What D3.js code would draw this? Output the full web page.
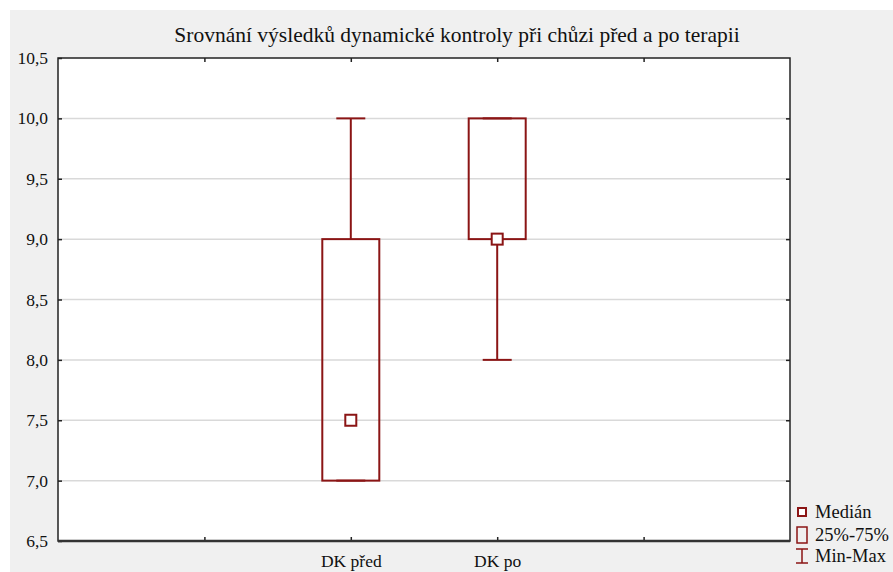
<!DOCTYPE html>
<html><head><meta charset="utf-8">
<script src="https://cdn.jsdelivr.net/npm/d3@7/dist/d3.min.js"></script>
<style>
html,body{margin:0;padding:0;background:#fff;}
svg{display:block;}
text{font-family:"Liberation Serif","Times New Roman",serif;fill:#111;}
</style></head>
<body>
<script>
const title = "Srovnání výsledků dynamické kontroly při chůzi před a po terapii";
const categories = ["DK před", "DK po"];
const slots = ["", "", "DK před", "DK po", ""];
const mins = [7.0, 8.0];
const q1 = [7.0, 9.0];
const medians = [7.5, 9.0];
const q3 = [9.0, 10.0];
const maxs = [10.0, 10.0];
const yTicks = [6.5, 7.0, 7.5, 8.0, 8.5, 9.0, 9.5, 10.0, 10.5];
const legendLabels = ["Medián", "25%-75%", "Min-Max"];

const W = 893, H = 572;
const m = {left: 58, top: 58, right: 790, bottom: 541};
const col = "#8b1515";

const svg = d3.select("body").append("svg").attr("width", W).attr("height", H);
svg.append("rect").attr("x", 10).attr("y", 10).attr("width", W - 10).attr("height", H - 10).attr("fill", "#f0f0f0");

const y = d3.scaleLinear().domain([6.5, 10.5]).range([m.bottom, m.top]);
const x = d3.scaleLinear().domain([0, 5]).range([m.left, m.right]);
const catPos = i => x(slots.indexOf(categories[i]));

svg.append("rect").attr("x", m.left).attr("y", m.top).attr("width", m.right - m.left).attr("height", m.bottom - m.top).attr("fill", "#fff");

// gridlines
svg.append("g").selectAll("line").data(yTicks.slice(1, -1)).join("line")
  .attr("x1", m.left).attr("x2", m.right).attr("y1", d => y(d)).attr("y2", d => y(d))
  .attr("stroke", "#d9d9d9").attr("stroke-width", 1.5);

// axes
const fmt = d => d3.format(".1f")(d).replace(".", ",");
const yAxis = svg.append("g").attr("transform", `translate(${m.left},0)`)
  .call(d3.axisLeft(y).tickValues(yTicks).tickFormat(fmt).tickSizeInner(-4).tickSizeOuter(0).tickPadding(10));
yAxis.select(".domain").remove();
yAxis.selectAll("text").attr("font-size", 17.5).style("font-family", '"Liberation Serif",serif').attr("fill", "#111");
yAxis.selectAll(".tick line").attr("stroke", "#222").attr("stroke-width", 1.5);

const yAxisR = svg.append("g").attr("transform", `translate(${m.right},0)`)
  .call(d3.axisRight(y).tickValues(yTicks.slice(1, -1)).tickFormat("").tickSizeInner(-4).tickSizeOuter(0));
yAxisR.select(".domain").remove();
yAxisR.selectAll(".tick line").attr("stroke", "#222").attr("stroke-width", 1.5);

const tickX = [1, 2, 3, 4];
const xAxisB = svg.append("g").attr("transform", `translate(0,${m.bottom})`)
  .call(d3.axisBottom(x).tickValues(tickX).tickFormat(d => slots[d]).tickSizeInner(-4).tickSizeOuter(0).tickPadding(14));
xAxisB.select(".domain").remove();
xAxisB.selectAll("text").attr("font-size", 17.5).style("font-family", '"Liberation Serif",serif').attr("fill", "#111");
xAxisB.selectAll(".tick line").attr("stroke", "#222").attr("stroke-width", 1.5);

const xAxisT = svg.append("g").attr("transform", `translate(0,${m.top})`)
  .call(d3.axisTop(x).tickValues(tickX).tickFormat("").tickSizeInner(-4).tickSizeOuter(0));
xAxisT.select(".domain").remove();
xAxisT.selectAll(".tick line").attr("stroke", "#222").attr("stroke-width", 1.5);

// frame
svg.append("rect").attr("x", m.left).attr("y", m.top).attr("width", m.right - m.left).attr("height", m.bottom - m.top)
  .attr("fill", "none").attr("stroke", "#222").attr("stroke-width", 1.5);
svg.append("line").attr("x1", m.left).attr("x2", m.right).attr("y1", m.bottom).attr("y2", m.bottom).attr("stroke", "#333").attr("stroke-width", 2.5);

// boxes
const boxW = 57, capW = 29, medS = 11;
const g = svg.append("g");
categories.forEach((c, i) => {
  const cx = catPos(i);
  g.append("line").attr("x1", cx).attr("x2", cx).attr("y1", y(maxs[i])).attr("y2", y(q3[i])).attr("stroke", col).attr("stroke-width", 2);
  g.append("line").attr("x1", cx).attr("x2", cx).attr("y1", y(q1[i])).attr("y2", y(mins[i])).attr("stroke", col).attr("stroke-width", 2);
  g.append("line").attr("x1", cx - capW / 2).attr("x2", cx + capW / 2).attr("y1", y(maxs[i])).attr("y2", y(maxs[i])).attr("stroke", col).attr("stroke-width", 2);
  g.append("line").attr("x1", cx - capW / 2).attr("x2", cx + capW / 2).attr("y1", y(mins[i])).attr("y2", y(mins[i])).attr("stroke", col).attr("stroke-width", 2);
  g.append("rect").attr("x", cx - boxW / 2).attr("y", y(q3[i])).attr("width", boxW).attr("height", y(q1[i]) - y(q3[i]))
    .attr("fill", "none").attr("stroke", col).attr("stroke-width", 2);
  g.append("rect").attr("x", cx - medS / 2).attr("y", y(medians[i]) - medS / 2).attr("width", medS).attr("height", medS)
    .attr("fill", "#fff").attr("stroke", col).attr("stroke-width", 2);
});

// title
svg.append("text").attr("x", 457).attr("y", 42).attr("text-anchor", "middle").attr("font-size", 21.5).text(title);

// legend
const lx = 802, ly = [512, 535, 556];
const lg = svg.append("g");
lg.append("rect").attr("x", lx - 4).attr("y", ly[0] - 4).attr("width", 8).attr("height", 8).attr("fill", "#fff").attr("stroke", col).attr("stroke-width", 2);
lg.append("rect").attr("x", lx - 5).attr("y", ly[1] - 8).attr("width", 10).attr("height", 16).attr("fill", "none").attr("stroke", col).attr("stroke-width", 1.5);
lg.append("line").attr("x1", lx).attr("x2", lx).attr("y1", ly[2] - 7).attr("y2", ly[2] + 7).attr("stroke", col).attr("stroke-width", 1.5);
lg.append("line").attr("x1", lx - 6).attr("x2", lx + 6).attr("y1", ly[2] - 7).attr("y2", ly[2] - 7).attr("stroke", col).attr("stroke-width", 1.5);
lg.append("line").attr("x1", lx - 6).attr("x2", lx + 6).attr("y1", ly[2] + 7).attr("y2", ly[2] + 7).attr("stroke", col).attr("stroke-width", 1.5);
lg.selectAll("text").data(legendLabels).join("text")
  .attr("x", lx + 13).attr("y", (d, i) => ly[i] + 6).attr("font-size", 18.5).text(d => d);
</script>
</body></html>
